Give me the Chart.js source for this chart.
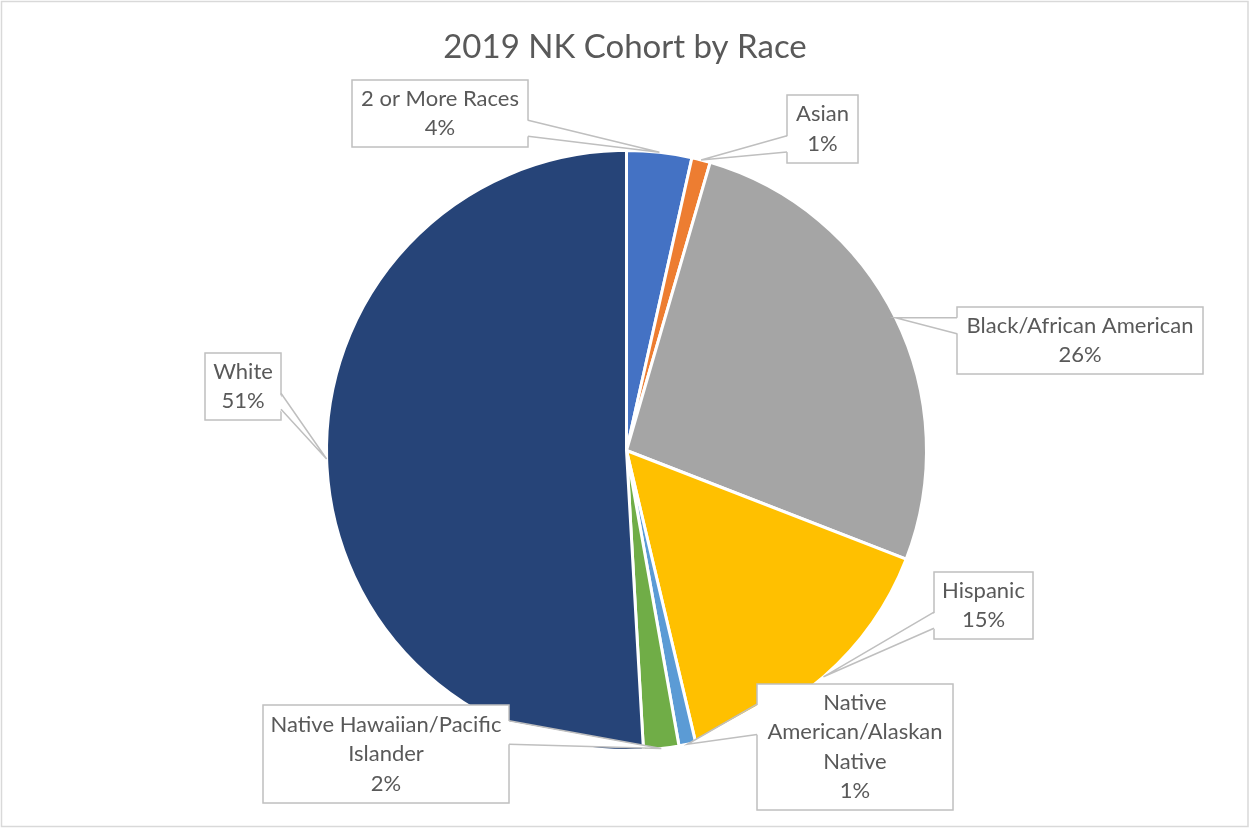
<!DOCTYPE html>
<html>
<head>
<meta charset="utf-8">
<script src="https://cdn.jsdelivr.net/npm/chart.js@4"></script>
<style>
  html, body { margin: 0; padding: 0; background: #fff; }
</style>
</head>
<body>
<canvas id="theChart" width="1250" height="828"></canvas>
<script>
const TITLE = "2019 NK Cohort by Race";
const categories = [
  "2 or More Races",
  "Asian",
  "Black/African American",
  "Hispanic",
  "Native American/Alaskan Native",
  "Native Hawaiian/Pacific Islander",
  "White",
];
const shares = [3.5, 1.0, 26.4, 15.4, 0.9, 1.9, 50.9];
const sliceColors = ["#4472C4", "#ED7D31", "#A5A5A5", "#FFC000", "#5B9BD5", "#70AD47", "#264478"];

// callout boxes: left, top, width, height
const calloutBoxes = [
  [352, 80, 176, 67],
  [787, 95, 71, 68],
  [957, 307, 246, 67],
  [934, 572, 99, 67],
  [757, 684, 196, 126],
  [263, 705, 246, 98],
  [205, 353, 76, 67],
];

const TEXT_COLOR = "#595959";
const LABEL_FONT = "22px Lato, 'Open Sans', sans-serif";
const LINE_H = 29.5;

function wrapText(ctx, text, maxWidth) {
  const words = text.split(" ");
  const lines = [];
  let cur = "";
  words.forEach(function (w) {
    const test = cur ? cur + " " + w : w;
    if (cur && ctx.measureText(test).width > maxWidth) {
      lines.push(cur);
      cur = w;
    } else {
      cur = test;
    }
  });
  if (cur) lines.push(cur);
  return lines;
}

function drawCallout(ctx, box, tip, lines) {
  const [bx, by, bw, bh] = box;
  const below = tip.y > by + bh / 2;
  const y1 = by + bh * (below ? 0.6 : 0.16);
  const y2 = by + bh * (below ? 0.84 : 0.4);
  const onRight = tip.x > bx + bw / 2;
  const ex = onRight ? bx + bw : bx;
  const inset = onRight ? -2 : 2;

  ctx.fillStyle = "#fff";
  ctx.fillRect(bx, by, bw, bh);
  ctx.strokeStyle = "#bfbfbf";
  ctx.lineWidth = 1.5;
  ctx.strokeRect(bx, by, bw, bh);

  // wedge pointing at the slice
  ctx.beginPath();
  ctx.moveTo(ex + inset, y1);
  ctx.lineTo(tip.x, tip.y);
  ctx.lineTo(ex + inset, y2);
  ctx.closePath();
  ctx.fill();
  ctx.beginPath();
  ctx.moveTo(ex, y1);
  ctx.lineTo(tip.x, tip.y);
  ctx.lineTo(ex, y2);
  ctx.stroke();

  ctx.fillStyle = TEXT_COLOR;
  ctx.textAlign = "center";
  ctx.textBaseline = "middle";
  const cx = bx + bw / 2;
  const top = by + bh / 2 - ((lines.length - 1) * LINE_H) / 2;
  lines.forEach(function (l, i) {
    ctx.fillText(l, cx, top + i * LINE_H);
  });
}

const calloutPlugin = {
  id: "callouts",
  afterDraw(chart) {
    const ctx = chart.ctx;
    ctx.save();

    // outer frame
    ctx.strokeStyle = "#d9d9d9";
    ctx.lineWidth = 1.5;
    ctx.strokeRect(1.5, 1.5, chart.width - 3.5, chart.height - 3);

    // title
    ctx.fillStyle = TEXT_COLOR;
    ctx.font = "33px Lato, 'Open Sans', sans-serif";
    ctx.textAlign = "center";
    ctx.textBaseline = "middle";
    ctx.fillText(TITLE, chart.width / 2, 47);

    ctx.font = LABEL_FONT;
    const total = shares.reduce((a, b) => a + b, 0);
    const meta = chart.getDatasetMeta(0);
    meta.data.forEach(function (arc, i) {
      const p = arc.getProps(["x", "y", "startAngle", "endAngle", "outerRadius"], true);
      const mid = (p.startAngle + p.endAngle) / 2;
      const tip = {
        x: p.x + Math.cos(mid) * p.outerRadius,
        y: p.y + Math.sin(mid) * p.outerRadius,
      };
      const box = calloutBoxes[i];
      const lines = wrapText(ctx, categories[i], box[2] - 8);
      lines.push(Math.round((shares[i] / total) * 100) + "%");
      drawCallout(ctx, box, tip, lines);
    });
    ctx.restore();
  },
};

const config = {
  type: "pie",
  data: {
    labels: categories,
    datasets: [
      {
        data: shares,
        backgroundColor: sliceColors,
        borderColor: "#ffffff",
        borderWidth: 3,
      },
    ],
  },
  options: {
    responsive: false,
    animation: false,
    layout: {
      padding: { top: 149, bottom: 76, left: 325, right: 322 },
    },
    plugins: {
      legend: { display: false },
      tooltip: { enabled: false },
    },
  },
  plugins: [calloutPlugin],
};

const theChart = new Chart(document.getElementById("theChart"), config);
</script>
</body>
</html>
